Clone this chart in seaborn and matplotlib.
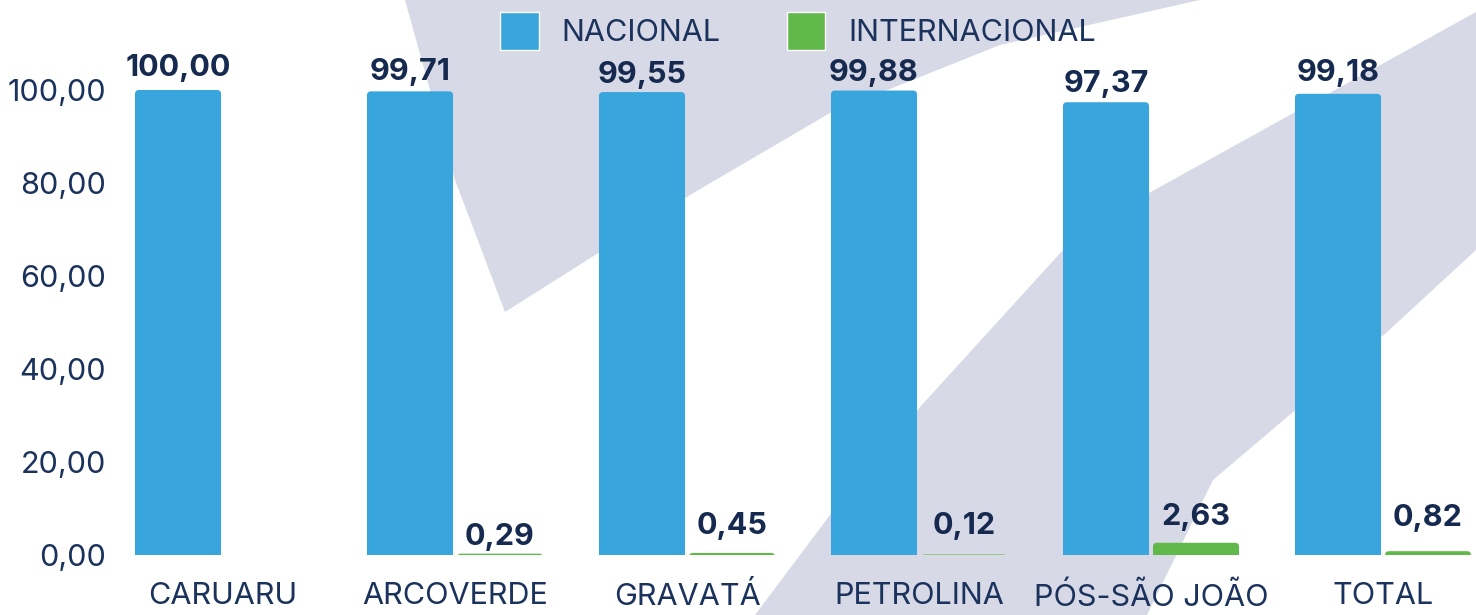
import numpy as np
import pandas as pd
import matplotlib
matplotlib.use("Agg")
import matplotlib.pyplot as plt
import seaborn as sns
from matplotlib.patches import Polygon, FancyBboxPatch
from matplotlib.ticker import FuncFormatter

# ---- data ----
categories = ["CARUARU", "ARCOVERDE", "GRAVATÁ", "PETROLINA", "PÓS-SÃO JOÃO", "TOTAL"]
series = ["NACIONAL", "INTERNACIONAL"]
nacional = [100.00, 99.71, 99.55, 99.88, 97.37, 99.18]
internacional = [np.nan, 0.29, 0.45, 0.12, 2.63, 0.82]
yticks = [0, 20, 40, 60, 80, 100]

BLUE = "#38A5DD"
GREEN = "#62B94B"
NAVY = "#16294F"
NAVY2 = "#1A325C"
WATER = "#D8D9E6"

# label baseline offsets above bar tops (pixels), per series, per category
label_offsets = [[14, 11, 9, 10, 10, 13], [0, 9, 19, 20, 18, 25]]

df = pd.DataFrame({
    "cat": categories * 2,
    "serie": [series[0]] * len(categories) + [series[1]] * len(categories),
    "valor": nacional + internacional,
})

sns.set_theme(style="white")
plt.rcParams["font.family"] = ["Inter", "DejaVu Sans"]

W, H = 1476, 615
fig = plt.figure(figsize=(W / 100, H / 100), dpi=100)
fig.patch.set_facecolor("white")

# background watermark shapes (figure pixel coords)
def fpoly(pts):
    return [(x / W, 1 - y / H) for x, y in pts]

top_shape = [(405, 0), (455, 180), (505, 312), (690, 195), (830, 113),
             (1000, 45), (1200, 0)]
band_shape = [(755, 615), (830, 515), (920, 407), (1063, 250), (1149, 193),
              (1476, 12), (1476, 250), (1386, 333), (1213, 480), (1147, 615)]
for pts in (top_shape, band_shape):
    fig.add_artist(Polygon(fpoly(pts), closed=True, transform=fig.transFigure,
                           facecolor=WATER, edgecolor="none", zorder=-5))

ax_left, ax_right = 120, 1476
ax_bottom_px = 555
ax = fig.add_axes([ax_left / W, (H - ax_bottom_px) / H,
                   (ax_right - ax_left) / W, ax_bottom_px / H])
ax.set_facecolor("none")

sns.barplot(data=df, x="cat", y="valor", hue="serie", order=categories,
            hue_order=series, palette=[BLUE, GREEN], width=0.776, gap=0.044,
            errorbar=None, saturation=1, ax=ax)

ppu_y = 4.65
x0_px = 223
ax.set_xlim((ax_left - x0_px) / 232, (ax_right - x0_px) / 232)
ax.set_ylim(0, ax_bottom_px / ppu_y)

# rounded top corners
fig.canvas.draw()
pxx = ax.transData.transform((1, 0))[0] - ax.transData.transform((0, 0))[0]
pxy = ax.transData.transform((0, 1))[1] - ax.transData.transform((0, 0))[1]
rad = 4.0
for cont in ax.containers:
    for rect in cont:
        h = rect.get_height()
        rect.set_visible(False)
        if not np.isfinite(h) or h <= 0:
            continue
        x, w = rect.get_x(), rect.get_width()
        r = rad / pxx
        ma = pxx / pxy
        ext = 3 * rad / pxy
        p = FancyBboxPatch((x, -ext), w, h + ext,
                           boxstyle=f"round,pad=0,rounding_size={r}",
                           mutation_aspect=ma, facecolor=rect.get_facecolor(),
                           edgecolor="none", zorder=2)
        ax.add_patch(p)

# value labels
fmt = lambda v: f"{v:.2f}".replace(".", ",")
for cont, offs in zip(ax.containers, label_offsets):
    for rect in cont:
        h = rect.get_height()
        if not np.isfinite(h):
            continue
        cx = rect.get_x() + rect.get_width() / 2
        ci = int(round(cx))
        ax.annotate(fmt(h), (cx, h),
                    xytext=(0, offs[ci]), textcoords="offset pixels",
                    ha="center", va="baseline", fontsize=22, fontweight="bold",
                    color=NAVY, zorder=3)

ax.set_yticks(yticks)
ax.yaxis.set_major_formatter(FuncFormatter(lambda v, p: fmt(v)))
ax.tick_params(axis="y", length=0, pad=10, labelsize=22, labelcolor=NAVY2)
ax.tick_params(axis="x", length=0, pad=19.5, labelsize=22, labelcolor=NAVY2)
ax.set_xlabel("")
ax.set_ylabel("")
for s in ax.spines.values():
    s.set_visible(False)
ax.grid(False)

handles, labels = ax.get_legend_handles_labels()
if ax.get_legend() is not None:
    ax.get_legend().remove()
fig.legend(handles, labels, loc="center", bbox_to_anchor=(798 / W, 1 - 31 / H),
           ncol=2, frameon=False, fontsize=22, labelcolor=NAVY2,
           handlelength=1.27, handleheight=1.57, handletextpad=0.75,
           columnspacing=2.15, borderpad=0)

fig.savefig("out.png", dpi=100, facecolor="white")
